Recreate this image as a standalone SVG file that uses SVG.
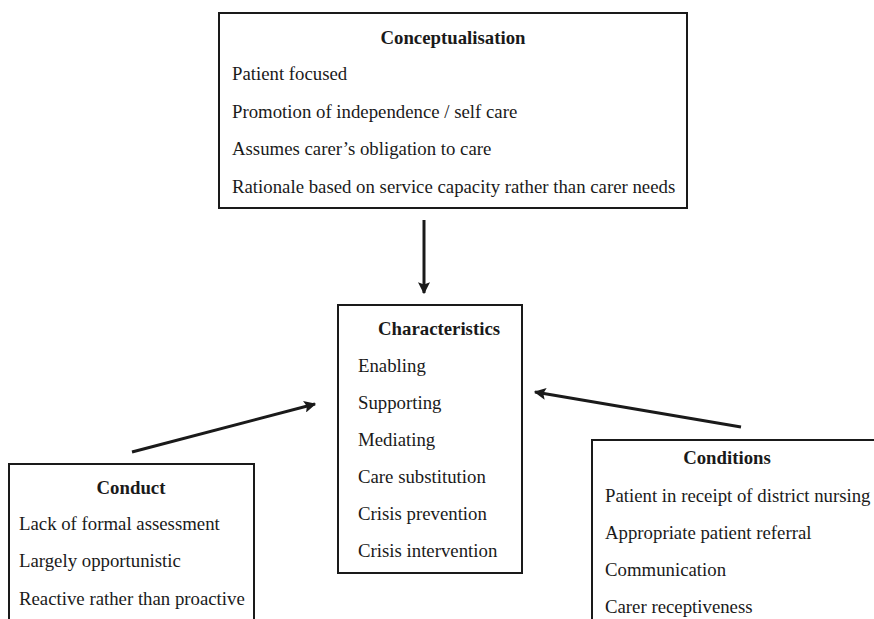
<svg xmlns="http://www.w3.org/2000/svg" width="874" height="619" viewBox="0 0 874 619">
<style>
.box{fill:#fff;stroke:#1a1a1a;stroke-width:2}
text{font-family:"Liberation Serif","Times New Roman",serif;font-size:18.8px;fill:#1a1a1a}
.t{font-weight:bold}
.c{stroke:#1a1a1a;stroke-width:3;fill:none;marker-end:url(#ah)}
</style>
<defs>
<marker id="ah" viewBox="0 0 10 10" refX="9" refY="5" markerWidth="4" markerHeight="4" orient="auto" markerUnits="strokeWidth">
<path d="M0,0 L10,5 L0,10 L2,5 Z" fill="#1a1a1a"/>
</marker>
</defs>
<rect width="874" height="619" fill="#fff"/>
<g id="conceptualisation">
<rect class="box" x="219" y="13" width="468" height="195"/>
<text class="t" x="453" y="44" text-anchor="middle">Conceptualisation</text>
<text x="232" y="80">Patient focused</text>
<text x="232" y="118">Promotion of independence / self care</text>
<text x="232" y="155">Assumes carer’s obligation to care</text>
<text x="232" y="193">Rationale based on service capacity rather than carer needs</text>
</g>
<g id="characteristics">
<rect class="box" x="338" y="305" width="184" height="268"/>
<text class="t" x="378" y="335">Characteristics</text>
<text x="358" y="372">Enabling</text>
<text x="358" y="409">Supporting</text>
<text x="358" y="446">Mediating</text>
<text x="358" y="483">Care substitution</text>
<text x="358" y="520">Crisis prevention</text>
<text x="358" y="557">Crisis intervention</text>
</g>
<g id="conduct">
<rect class="box" x="9" y="464" width="245" height="170"/>
<text class="t" x="131" y="494" text-anchor="middle">Conduct</text>
<text x="19" y="530">Lack of formal assessment</text>
<text x="19" y="567">Largely opportunistic</text>
<text x="19" y="605">Reactive rather than proactive</text>
</g>
<g id="conditions">
<rect class="box" x="592" y="440" width="300" height="200"/>
<text class="t" x="727" y="464" text-anchor="middle">Conditions</text>
<text x="605" y="502">Patient in receipt of district nursing</text>
<text x="605" y="539">Appropriate patient referral</text>
<text x="605" y="576">Communication</text>
<text x="605" y="613">Carer receptiveness</text>
</g>
<g id="connectors">
<line class="c" x1="424" y1="220" x2="424" y2="293"/>
<line class="c" x1="132" y1="452" x2="315" y2="404"/>
<line class="c" x1="741" y1="427" x2="535" y2="392"/>
</g>
</svg>
